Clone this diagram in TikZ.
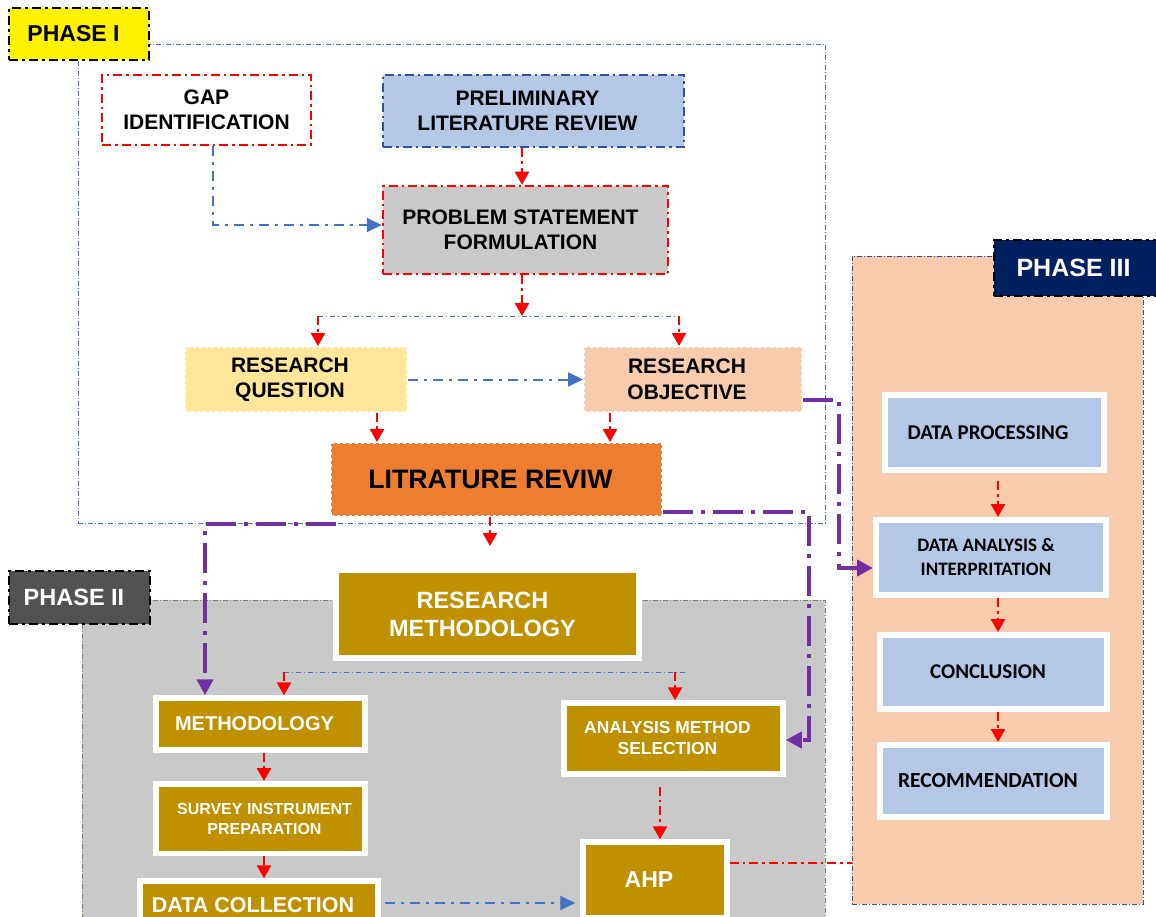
\documentclass[tikz,border=0pt]{standalone}
\usepackage{fontspec}
\setmainfont{Liberation Sans}
\newfontfamily\calfont{Carlito}
\usetikzlibrary{arrows.meta,calc}

\definecolor{goldc}{HTML}{BF9000}
\definecolor{lblue}{HTML}{B4C7E7}
\definecolor{grayc}{HTML}{C9C9C9}
\definecolor{rqfill}{HTML}{FFE699}
\definecolor{peach}{HTML}{F8CBAD}
\definecolor{orangec}{HTML}{ED7D31}
\definecolor{darkg}{HTML}{525252}
\definecolor{navyc}{HTML}{002060}
\definecolor{purp}{HTML}{7030A0}
\definecolor{blueA}{HTML}{4472C4}
\definecolor{blueB}{HTML}{2F5597}
\definecolor{greenb}{HTML}{6E8A5A}

% invisible padding used to move a centred line sideways
\newcommand{\rp}[1]{\rule{#1pt}{0pt}}

\begin{document}
\begin{tikzpicture}[x=1pt,y=-1pt,
  box/.style={rectangle, inner sep=0pt, align=center,
    font=\bfseries\fontsize{21}{25.5}\selectfont},
  reddd/.style={draw=red, line width=2.5pt, dash pattern=on 9pt off 4pt on 2.5pt off 4pt},
  goldbox/.style={box, fill=goldc, draw=white, line width=6pt, text=white},
  pbox/.style={rectangle, inner sep=0pt, align=center, fill=lblue, draw=white,
    line width=6pt, font=\calfont\bfseries\fontsize{21}{24}\selectfont},
  phase/.style={rectangle, inner sep=0pt, draw=black, line width=2.5pt,
    dash pattern=on 9pt off 4pt on 3pt off 4pt,
    font=\bfseries\fontsize{23}{27}\selectfont},
  region/.style={rectangle, inner sep=0pt, line width=0.8pt,
    dash pattern=on 5pt off 2pt on 1pt off 2pt},
  rarrow/.style={reddd, -{Triangle[width=14pt,length=13pt]}},
  barrow/.style={draw=blueA, line width=2pt, dash pattern=on 10pt off 6pt on 3pt off 6pt,
    -{Triangle[width=14pt,length=15pt]}},
  parrow/.style={draw=purp, line width=4pt, dash pattern=on 30pt off 8pt on 4pt off 8pt,
    -{Triangle[width=16pt,length=16pt]}},
  thinblue/.style={draw=blueA, line width=1pt, dash pattern=on 5pt off 3pt on 1pt off 3pt}
]
\useasboundingbox (0,0) rectangle (1156,917);

% phase regions
\node[region, draw=blueA, minimum width=747pt, minimum height=479pt] (r1) at (451.5,283.5) {};
\node[region, draw=blueB, fill=peach, minimum width=291pt, minimum height=648pt] (r3) at (997.5,580) {};
\node[region, draw=greenb, fill=grayc, minimum width=743pt, minimum height=330pt] (r2) at (453.5,765) {};

% phase labels
\node[phase, fill=yellow, minimum width=140pt, minimum height=52pt] (ph1) at (79,34) {\raisebox{-2pt}{PHASE I}\rp{11}};
\node[phase, fill=darkg, text=white, minimum width=141pt, minimum height=53pt,
  font=\bfseries\fontsize{23.5}{27}\selectfont] (ph2) at (79.5,597.5) {PHASE II\rp{11}};
\node[phase, fill=navyc, text=white, minimum width=176pt, minimum height=56pt,
  font=\bfseries\fontsize{25}{29}\selectfont] (ph3) at (1082,268) {PHASE III\rp{17}};

% phase I boxes
\node[box, reddd, fill=white, minimum width=209pt, minimum height=70pt] (gap) at (206.5,110) {GAP\\IDENTIFICATION};
\node[box, draw=blueB, line width=2.5pt, dash pattern=on 9pt off 4pt on 2.5pt off 4pt,
  fill=lblue, minimum width=301pt, minimum height=72pt] (prelim) at (533.5,111) {PRELIMINARY\rp{12}\\LITERATURE REVIEW\rp{12}};
\node[box, reddd, fill=grayc, minimum width=285pt, minimum height=88pt] (prob) at (525.5,230) {PROBLEM STATEMENT\rp{10}\\FORMULATION\rp{10}};
\node[box, fill=rqfill, draw=white, line width=2pt, dashed, minimum width=222pt, minimum height=65pt] (rq) at (296,379.5) {RESEARCH\rp{12}\\QUESTION\rp{12}};
\node[box, fill=peach, draw=white, line width=2pt, dashed, minimum width=218pt, minimum height=65pt] (ro) at (693,379.5) {RESEARCH\rp{12}\\OBJECTIVE\rp{12}};
\node[box, fill=orangec, draw=white, line width=2pt, dashed, minimum width=331pt, minimum height=73pt,
  font=\bfseries\fontsize{26.7}{30}\selectfont] (lr) at (496.5,479.5) {LITRATURE REVIW\rp{12}};

% phase II boxes
\node[goldbox, minimum width=303pt, minimum height=88pt, font=\bfseries\fontsize{23.5}{28}\selectfont] (rm) at (487.5,614) {RESEARCH\rp{10}\\METHODOLOGY\rp{10}};
\node[goldbox, line width=5.5pt, minimum width=209pt, minimum height=52pt, font=\bfseries\fontsize{20}{24}\selectfont] (meth) at (260.5,724) {METHODOLOGY\rp{12}};
\node[goldbox, line width=5.5pt, minimum width=209pt, minimum height=69.5pt, font=\bfseries\fontsize{16}{20}\selectfont] (surv) at (260.5,818.5) {\rp{8}SURVEY INSTRUMENT\\\rp{8}PREPARATION};
\node[goldbox, line width=5.5pt, minimum width=238pt, minimum height=48pt, font=\bfseries\fontsize{21.5}{25}\selectfont] (dc) at (259,905) {DATA COLLECTION\rp{12}};
\node[goldbox, line width=5.5pt, minimum width=219pt, minimum height=71pt, font=\bfseries\fontsize{17.4}{21}\selectfont] (ams) at (673.5,738.5) {ANALYSIS METHOD\rp{12}\\SELECTION\rp{12}};
\node[goldbox, line width=5.5pt, minimum width=144pt, minimum height=76pt, font=\bfseries\fontsize{23}{27}\selectfont] (ahp) at (655,880) {AHP\rp{12}};

% phase III boxes
\node[pbox, minimum width=219pt, minimum height=75pt] (dp) at (994.5,432.5) {DATA PROCESSING\rp{13}};
\node[pbox, minimum width=230pt, minimum height=75pt, font=\calfont\bfseries\fontsize{19}{24}\selectfont] (da) at (991,557.5) {DATA ANALYSIS \&\rp{10}\\INTERPRITATION\rp{10}};
\node[pbox, minimum width=227pt, minimum height=74pt] (conc) at (993.5,672) {CONCLUSION\rp{11}};
\node[pbox, minimum width=227pt, minimum height=72pt, font=\calfont\bfseries\fontsize{21.5}{24}\selectfont] (rec) at (993.5,781) {RECOMMENDATION\rp{11}};

% branch points
\coordinate (probtip) at (522,316);
\coordinate (s1L) at (318,316);
\coordinate (s1R) at (679,316);
\coordinate (rmtip) at (490,546);
\coordinate (s2L) at (284,672);
\coordinate (s2R) at (685,672);
\coordinate (s2A) at (675,672);
\coordinate (lrbend) at (809,512);
\coordinate (robend) at (839,400);
\coordinate (ahpout) at ([yshift=17pt]ahp.east);

% phase I connectors
\draw[rarrow] ([xshift=-11.5pt]prelim.south) -- ([xshift=-3.5pt]prob.north);
\draw[barrow] ([xshift=6.5pt]gap.south) |- ([yshift=5pt]prob.west);
\draw[rarrow] ([xshift=-3.5pt]prob.south) -- (probtip);
\draw[thinblue] (s1L) -- (s1R);
\draw[rarrow] (s1L) -- ([xshift=22pt]rq.north);
\draw[rarrow] (s1R) -- ([xshift=-14pt]ro.north);
\draw[barrow] (rq.east) -- (ro.west);
\draw[rarrow] ([xshift=81pt]rq.south) -- ([xshift=-119.5pt]lr.north);
\draw[rarrow] ([xshift=-83pt]ro.south) -- ([xshift=113.5pt]lr.north);
\draw[rarrow] ([xshift=-6.5pt]lr.south) -- (rmtip);

% links across phases
\draw[parrow] ([xshift=6pt,yshift=-7pt]lr.south west) -| ([xshift=-55.5pt]meth.north);
\draw[parrow] ([yshift=-32.5pt]lr.east) -- (lrbend) |- ([yshift=-1.5pt]ams.east);
\draw[parrow] ([yshift=-20.5pt]ro.east) -- (robend) |- ([yshift=-10.5pt]da.west);

% phase II connectors
\draw[thinblue] (s2L) -- (s2R);
\draw[rarrow] (s2L) -- ([xshift=23.5pt]meth.north);
\draw[rarrow] (s2A) -- ([xshift=1.5pt]ams.north);
\draw[rarrow] ([xshift=3.5pt]meth.south) -- ([xshift=3.5pt]surv.north);
\draw[rarrow] ([xshift=3.5pt]surv.south) -- ([xshift=5pt]dc.north);
\draw[barrow, shorten <=4pt, shorten >=5pt] ([yshift=2pt]dc.east) -- ([yshift=-23pt]ahp.west);
\draw[rarrow, shorten <=10pt] ([xshift=-13.5pt]ams.south) -- ([xshift=5pt]ahp.north);
\draw[reddd] (ahpout) -- (ahpout -| r3.west);

% phase III connectors
\draw[rarrow, shorten <=8pt] ([xshift=3.5pt]dp.south) -- ([xshift=7pt]da.north);
\draw[rarrow] ([xshift=7pt]da.south) -- ([xshift=4.5pt]conc.north);
\draw[rarrow] ([xshift=4.5pt]conc.south) -- ([xshift=4.5pt]rec.north);
\end{tikzpicture}
\end{document}
